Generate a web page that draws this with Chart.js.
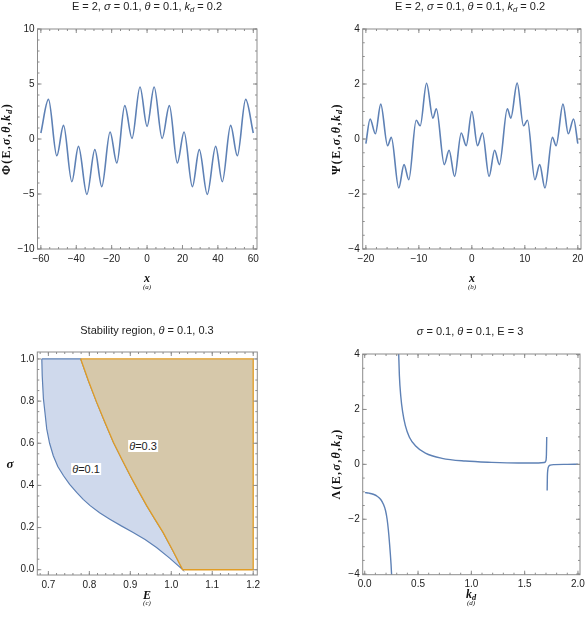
<!DOCTYPE html>
<html>
<head>
<meta charset="utf-8">
<script src="https://cdn.jsdelivr.net/npm/chart.js@4.4.1/dist/chart.umd.min.js"></script>
<style>
  html, body { margin: 0; padding: 0; background: #fff; }
  #wrap { position: relative; width: 585px; height: 618px; overflow: hidden; }
  canvas { position: absolute; }
  .t { position: absolute; transform: translate(-50%, -50%); white-space: nowrap;
       font: 11px "Liberation Sans", Arial, sans-serif; color: #222; }
  .yl { position: absolute; transform: translate(-50%, -50%) rotate(-90deg); white-space: nowrap;
        font: bold 12px "Liberation Serif", "Times New Roman", serif; color: #111; letter-spacing: 1.3px; }
  .xl { position: absolute; transform: translate(-50%, -50%); white-space: nowrap;
        font: italic bold 12px "Liberation Serif", "Times New Roman", serif; color: #111; }
  .sl { position: absolute; transform: translate(-50%, -50%); white-space: nowrap;
        font: italic 7px "Liberation Serif", "Times New Roman", serif; color: #111; }
  .lab { position: absolute; transform: translate(-50%, -50%); white-space: nowrap; background: #fff;
         padding: 0 1px; font: 11px "Liberation Sans", Arial, sans-serif; color: #222; }
  sub { font-size: 70%; vertical-align: -0.25em; line-height: 0; }
</style>
</head>
<body>
<div id="wrap">
  <canvas id="ca" width="292" height="309" style="left:0;top:0"></canvas>
  <canvas id="cb" width="293" height="309" style="left:292px;top:0"></canvas>
  <canvas id="cc" width="292" height="309" style="left:0;top:309px"></canvas>
  <canvas id="cd" width="293" height="309" style="left:292px;top:309px"></canvas>

  <div class="t" style="left:147px;top:6px">E = 2, <i>σ</i> = 0.1, <i>θ</i> = 0.1, <i>k</i><sub><i>d</i></sub> = 0.2</div>
  <div class="t" style="left:470px;top:6px">E = 2, <i>σ</i> = 0.1, <i>θ</i> = 0.1, <i>k</i><sub><i>d</i></sub> = 0.2</div>
  <div class="t" style="left:147px;top:330px">Stability region, <i>θ</i> = 0.1, 0.3</div>
  <div class="t" style="left:470px;top:331px"><i>σ</i> = 0.1, <i>θ</i> = 0.1, E = 3</div>

  <div class="yl" style="left:6px;top:139px">Φ(E,<i>σ</i>,<i>θ</i>,<i>k</i><sub><i>d</i></sub>)</div>
  <div class="yl" style="left:336px;top:139px">Ψ(E,<i>σ</i>,<i>θ</i>,<i>k</i><sub><i>d</i></sub>)</div>
  <div class="xl" style="left:10px;top:464px;font-size:13px">σ</div>
  <div class="yl" style="left:336px;top:464px">Λ(E,<i>σ</i>,<i>θ</i>,<i>k</i><sub><i>d</i></sub>)</div>

  <div class="xl" style="left:147px;top:278px">x</div>
  <div class="sl" style="left:147px;top:287px">(a)</div>
  <div class="xl" style="left:472px;top:278px">x</div>
  <div class="sl" style="left:472px;top:287px">(b)</div>
  <div class="xl" style="left:147px;top:595px">E</div>
  <div class="sl" style="left:147px;top:603px">(c)</div>
  <div class="xl" style="left:471px;top:594px">k<sub>d</sub></div>
  <div class="sl" style="left:471px;top:603px">(d)</div>

  <div class="lab" style="left:86px;top:469px"><i>θ</i>=0.1</div>
  <div class="lab" style="left:143px;top:446px"><i>θ</i>=0.3</div>
</div>
<script>
// (a) Phi(x): extrema
const phiX = [-60, -55.7, -51.0, -47.2, -42.5, -38.75, -34.0, -29.5, -25.6, -20.9, -17.1, -12.6, -8.5, -4.0, 0,
              4.0, 8.5, 12.6, 17.1, 20.9, 25.6, 29.5, 34.0, 38.75, 42.5, 47.2, 51.0, 55.7, 60];
const phiY = [0.55, 3.6, -1.52, 1.24, -3.88, -0.67, -5.03, -0.97, -4.33, 0.64, -2.18, 3.03, 0.06, 4.73, 1.15,
              4.73, 0.06, 3.03, -2.18, 0.64, -4.33, -0.97, -5.03, -0.67, -3.88, 1.24, -1.52, 3.6, 0.55];

// (b) Psi(x)
const psiX = [-20, -19.2, -18.2, -17.2, -15.9, -15.2, -13.8, -12.8, -11.9, -10.5, -9.75, -8.55, -7.35, -6.7,
              -5.2, -4.3, -3.25, -2.0, -1.07, 0, 1.07, 2.0, 3.25, 4.3, 5.2, 6.7, 7.35, 8.55, 9.75, 10.5,
              11.9, 12.8, 13.8, 15.2, 15.9, 17.2, 18.2, 19.2, 20];
const psiY = [-0.17, 0.73, 0.19, 1.27, -0.24, 0.06, -1.78, -0.93, -1.48, 0.68, 0.48, 2.03, 0.76, 1.1,
              -0.93, -0.41, -1.36, 0.22, -0.24, 1.0, -0.24, 0.22, -1.36, -0.41, -0.93, 1.1, 0.76, 2.03, 0.48, 0.68,
              -1.48, -0.93, -1.78, 0.06, -0.24, 1.27, 0.19, 0.73, -0.17];

// (c) stability boundaries, E against sigma
const blueE = [0.684, 0.685, 0.688, 0.692, 0.696, 0.703, 0.712, 0.723, 0.737, 0.752, 0.769, 0.785, 0.802,
               0.825, 0.85, 0.878, 0.907, 0.936, 0.964, 0.996, 1.028];
const blueS = [1.0, 0.92, 0.81, 0.74, 0.668, 0.60, 0.541, 0.49, 0.446, 0.405, 0.367, 0.334, 0.304,
               0.27, 0.24, 0.208, 0.177, 0.143, 0.105, 0.055, 0.0];
const orangeE = [0.779, 0.798, 0.818, 0.838, 0.859, 0.880, 0.90, 0.92, 0.94, 0.96, 0.98, 1.004, 1.028];
const orangeS = [1.0, 0.895, 0.794, 0.70, 0.604, 0.522, 0.446, 0.374, 0.304, 0.240, 0.177, 0.09, 0.0];
const edgeE = 1.2;

// (d) Lambda(k_d), three branches
const lamX1 = [0.003, 0.04, 0.08, 0.12, 0.15, 0.175, 0.195, 0.21, 0.222, 0.232, 0.24, 0.247, 0.253];
const lamY1 = [-1.03, -1.05, -1.09, -1.17, -1.28, -1.45, -1.68, -2.0, -2.4, -2.85, -3.25, -3.65, -4.1];
const lamX2 = [0.318, 0.325, 0.3375, 0.356, 0.381, 0.419, 0.475, 0.569, 0.725, 0.944, 1.19, 1.44, 1.63,
               1.685, 1.698, 1.704, 1.707];
const lamY2 = [4.1, 3.24, 2.51, 1.9, 1.41, 0.99, 0.68, 0.41, 0.22, 0.12, 0.073, 0.05, 0.05,
               0.065, 0.12, 0.35, 1.0];
const lamX3 = [1.711, 1.713, 1.717, 1.725, 1.74, 1.78, 1.9, 2.0];
const lamY3 = [-0.95, -0.45, -0.2, -0.08, -0.03, -0.01, 0.0, 0.005];

// tick values and labels
const aXt = [-60, -40, -20, 0, 20, 40, 60];
const aXl = ['−60', '−40', '−20', '0', '20', '40', '60'];
const aYt = [-10, -5, 0, 5, 10];
const aYl = ['−10', '−5', '0', '5', '10'];
const bXt = [-20, -10, 0, 10, 20];
const bXl = ['−20', '−10', '0', '10', '20'];
const bYt = [-4, -2, 0, 2, 4];
const bYl = ['−4', '−2', '0', '2', '4'];
const cXt = [0.7, 0.8, 0.9, 1.0, 1.1, 1.2];
const cXl = ['0.7', '0.8', '0.9', '1.0', '1.1', '1.2'];
const cYt = [0, 0.2, 0.4, 0.6, 0.8, 1.0];
const cYl = ['0.0', '0.2', '0.4', '0.6', '0.8', '1.0'];
const dXt = [0, 0.5, 1.0, 1.5, 2.0];
const dXl = ['0.0', '0.5', '1.0', '1.5', '2.0'];
const dYt = [-4, -2, 0, 2, 4];
const dYl = ['−4', '−2', '0', '2', '4'];

const BLUE = '#5e81b5';
const ORANGE = '#e19c24';
const FONT = '"Liberation Sans", Arial, sans-serif';

function pts(xs, ys) { return xs.map((x, i) => ({ x: x, y: ys[i] })); }

function steps(lo, hi, st) {
  const out = [];
  for (let v = Math.ceil(lo / st - 1e-9) * st; v <= hi + 1e-9; v += st) out.push(+v.toFixed(6));
  return out;
}

// frame with inward ticks, like the original
const frameTicks = {
  id: 'frameTicks',
  afterDatasetsDraw(chart, args, o) {
    const { ctx, chartArea: a, scales: { x, y } } = chart;
    ctx.save();
    ctx.strokeStyle = '#8c8c8c';
    ctx.lineWidth = 1;
    ctx.beginPath();
    const xt = (list, len) => list.forEach(v => {
      const p = x.getPixelForValue(v);
      if (p < a.left || p > a.right) return;
      ctx.moveTo(p, a.bottom); ctx.lineTo(p, a.bottom - len);
      ctx.moveTo(p, a.top); ctx.lineTo(p, a.top + len);
    });
    const yt = (list, len) => list.forEach(v => {
      const p = y.getPixelForValue(v);
      if (p < a.top || p > a.bottom) return;
      ctx.moveTo(a.left, p); ctx.lineTo(a.left + len, p);
      ctx.moveTo(a.right, p); ctx.lineTo(a.right - len, p);
    });
    xt(o.xMinor, 2); xt(o.xMajor, 4);
    yt(o.yMinor, 2); yt(o.yMajor, 4);
    ctx.stroke();
    ctx.strokeRect(a.left, a.top, a.right - a.left, a.bottom - a.top);
    ctx.restore();
  }
};

function axis(min, max, ticks, labels, isX, size) {
  return {
    type: 'linear', min: min, max: max,
    afterBuildTicks: s => { s.ticks = ticks.map(v => ({ value: v })); },
    afterFit: s => {
      if (isX) s.height = size; else s.width = size;
      s.paddingLeft = 0; s.paddingRight = 0; s.paddingTop = 0; s.paddingBottom = 0;
    },
    grid: { display: false, drawTicks: false },
    border: { display: false },
    ticks: {
      autoSkip: false, maxRotation: 0, padding: isX ? 4 : 3, color: '#222',
      font: { family: FONT, size: 10 },
      callback: (v, i) => labels[i]
    }
  };
}

function makeChart(id, datasets, pad, xs, ys, tickOpts) {
  return new Chart(document.getElementById(id), {
    type: 'scatter',
    data: { datasets: datasets },
    options: {
      responsive: false, animation: false, events: [],
      layout: { padding: pad },
      scales: { x: xs, y: ys },
      plugins: { legend: { display: false }, tooltip: { enabled: false }, frameTicks: tickOpts }
    },
    plugins: [frameTicks]
  });
}

function curve(data, color, w) {
  return { data: data, showLine: true, borderColor: color, borderWidth: w, pointRadius: 0,
           cubicInterpolationMode: 'monotone', fill: false };
}

// (a)
makeChart('ca', [curve(pts(phiX, phiY), BLUE, 1.6)],
  { left: 0, top: 29, right: 35, bottom: 0 },
  axis(-61.9, 62.1, aXt, aXl, true, 60),
  axis(-10, 10, aYt, aYl, false, 37.5),
  { xMajor: aXt, xMinor: steps(-60, 60, 5), yMajor: aYt, yMinor: steps(-10, 10, 1) });

// (b)
makeChart('cb', [curve(pts(psiX, psiY), BLUE, 1.6)],
  { left: 0, top: 29, right: 4, bottom: 0 },
  axis(-20.6, 20.6, bXt, bXl, true, 60),
  axis(-4, 4, bYt, bYl, false, 70.7),
  { xMajor: bXt, xMinor: steps(-20, 20, 2), yMajor: bYt, yMinor: steps(-4, 4, 0.5) });

// (c) regions as closed polygons
const bluePoly = pts(blueE, blueS)
  .concat(pts(orangeE, orangeS).reverse())
  .concat([{ x: blueE[0], y: blueS[0] }]);
const orangePoly = pts(orangeE, orangeS)
  .concat([{ x: edgeE, y: 0 }, { x: edgeE, y: 1 }, { x: orangeE[0], y: orangeS[0] }]);

makeChart('cc', [
    { data: orangePoly, showLine: true, borderColor: ORANGE, borderWidth: 1.3, pointRadius: 0,
      tension: 0, fill: 'shape', backgroundColor: '#d6c8aa', order: 1 },
    { data: bluePoly, showLine: true, borderColor: BLUE, borderWidth: 1.2, pointRadius: 0,
      tension: 0, fill: 'shape', backgroundColor: '#cfd9ec', order: 2 }
  ],
  { left: 0, top: 43, right: 34.7, bottom: 0 },
  axis(0.673, 1.21, cXt, cXl, true, 43),
  axis(-0.025, 1.033, cYt, cYl, false, 37.3),
  { xMajor: cXt, xMinor: steps(0.68, 1.2, 0.02), yMajor: cYt, yMinor: steps(0, 1, 0.05) });

// (d)
makeChart('cd', [
    curve(pts(lamX1, lamY1), BLUE, 1.4),
    curve(pts(lamX2, lamY2), BLUE, 1.4),
    curve(pts(lamX3, lamY3), BLUE, 1.4)
  ],
  { left: 0, top: 45, right: 5, bottom: 0 },
  axis(-0.019, 2.019, dXt, dXl, true, 43.3),
  axis(-4.02, 4.02, dYt, dYl, false, 70.7),
  { xMajor: dXt, xMinor: steps(0, 2, 0.1), yMajor: dYt, yMinor: steps(-4, 4, 0.5) });
</script>
</body>
</html>
